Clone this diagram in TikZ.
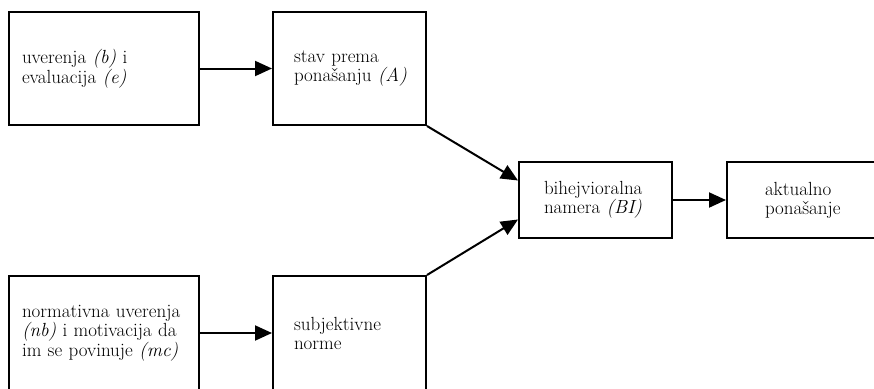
\documentclass[tikz,border=0pt]{standalone}
\usepackage{fontspec}
\usetikzlibrary{arrows.meta,calc}
\begin{document}
\begin{tikzpicture}[x=1pt,y=-1pt,
  box/.style={draw=black,line width=2pt,inner ysep=0pt,inner xsep=0pt,align=left,
    font=\fontsize{19}{19}\selectfont},
  arr/.style={line width=2pt,-{Triangle[length=17pt,width=15pt]}}]
\useasboundingbox (0,0) rectangle (874,388);
\clip (0,0) rectangle (874,388);
\fill[white] (0,0) rectangle (874,388);
\node[box,minimum width=190pt,minimum height=113pt,text width=164pt] (b1) at (104,68.5)
  {uverenja~\textit{(b)}~i\\evaluacija~\textit{(e)}};
\node[box,minimum width=153pt,minimum height=113pt,text width=111pt] (b2) at (349.5,68.5)
  {stav~prema\\ponašanju~\textit{(A)}};
\node[box,minimum width=190pt,minimum height=114pt,text width=164pt] (b3) at (104,333)
  {normativna~uverenja\\\textit{(nb)}~i~motivacija~da\\im~se~povinuje~\textit{(mc)}};
\node[box,minimum width=153pt,minimum height=114pt,text width=111pt] (b4) at (349.5,333)
  {subjektivne\\norme};
\node[box,minimum width=153pt,minimum height=76pt,text width=103pt] (bi) at (595.5,200)
  {bihejvioralna\\namera~\textit{(BI)}};
\node[box,minimum width=153pt,minimum height=76pt,text width=77pt] (act) at (803.5,200)
  {aktualno\\ponašanje};
\coordinate (biu) at ($(bi.west)!0.5!(bi.north west)$);
\coordinate (bil) at ($(bi.west)!0.5!(bi.south west)$);
\draw[arr] (b1.east) -- (b2.west);
\draw[arr] (b3.east) -- (b4.west);
\draw[arr] (bi.east) -- (act.west);
\draw[arr] (b2.south east) -- (biu);
\draw[arr] (b4.north east) -- (bil);
\end{tikzpicture}
\end{document}
